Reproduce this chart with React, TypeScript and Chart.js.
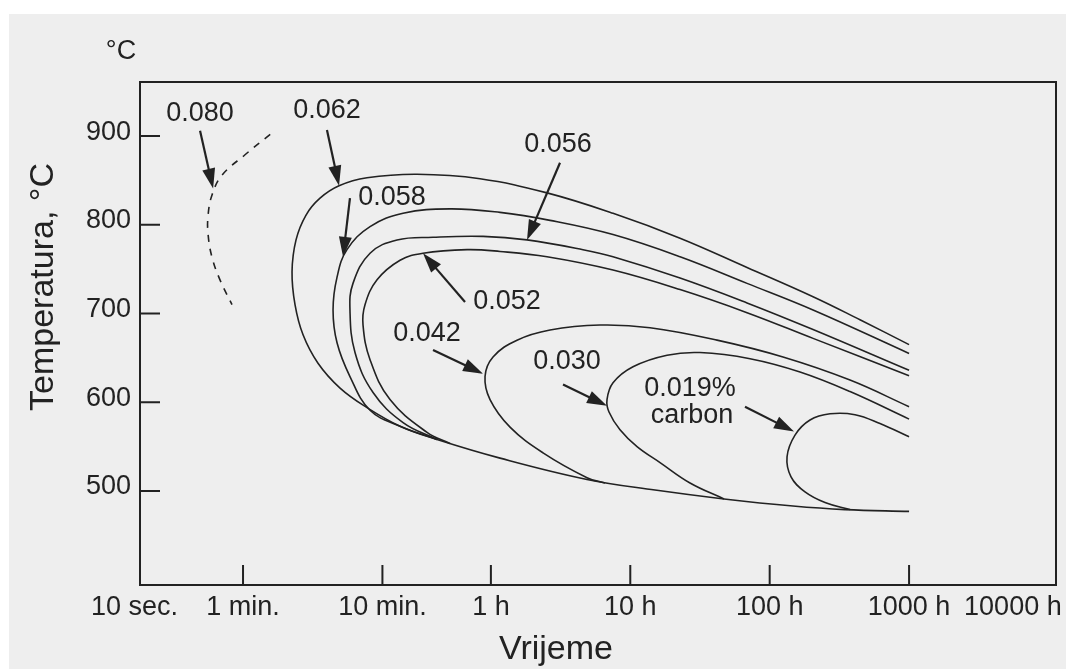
import React, { useEffect, useRef } from 'react';
import { Chart, registerables } from 'chart.js';

Chart.register(...registerables);

const FONT = "'Liberation Sans', Arial, Helvetica, sans-serif";
const INK = '#222222';

// x axis: time in seconds (log scale), y axis: temperature in °C
const xMin = 10.94;
const xMax = 40770000;
const yMin = 394;
const yMax = 961;

const xTickValues = [10, 60, 600, 3600, 36000, 360000, 3600000, 20000000];
const xTickLabels = ['10 sec.', '1 min.', '10 min.', '1 h', '10 h', '100 h', '1000 h', '10000 h'];
const xTickMarks = [60, 600, 3600, 36000, 360000, 3600000];
const yTickValues = [500, 600, 700, 800, 900];

// 0.080 % C (dashed)
const c080Time = [94, 62, 42.4, 36, 33.7, 33.7, 36, 41, 50];
const c080Temp = [902, 879, 856, 834, 811, 789, 763, 738, 710];

// 0.062 % C (includes common lower boundary)
const c062Time = [3600000, 1600000, 737000, 247600, 81900, 27070, 9100, 3008, 1063, 465, 293, 214, 169.9, 144, 134.8, 141.6, 161.7, 207, 298, 465, 803, 1479, 4186, 17615, 54160, 169300, 529000, 1250000, 3600000];
const c062Temp = [665, 693, 719, 752, 785, 813, 836, 852, 857, 853, 844, 830, 811, 783, 747, 710, 676, 644, 616, 594, 573, 558, 537, 513, 501, 491, 483, 479, 477];

// 0.058 % C
const c058Time = [3600000, 737000, 247600, 81900, 27070, 9561, 4186, 1833, 844, 489, 334, 283.5, 265.4, 283.5, 351, 489, 802.6, 1479];
const c058Temp = [655, 704, 734, 764, 789, 805, 814, 818, 813, 798, 772, 741, 704, 667, 629, 591, 573, 558];

// 0.056 % C
const c056Time = [3600000, 737000, 247600, 81900, 27070, 16490, 6539, 3162, 1384, 764, 489, 369, 351, 381.5, 514, 844, 1479];
const c056Temp = [636, 682, 712, 740, 764, 772, 783, 787, 786, 783, 768, 734, 704, 656, 611, 577, 558];

// 0.052 % C
const c052Time = [3600000, 737000, 247600, 81900, 27070, 9100, 4186, 2428, 1173, 803, 549, 450, 435.5, 489, 680, 1254, 1833];
const c052Temp = [630, 672, 701, 727, 749, 764, 770, 772, 768, 760, 738, 710, 687, 648, 603, 566, 553.5];

// 0.042 % C
const c042Time = [3600000, 1357000, 448600, 150850, 49890, 21840, 9561, 5542, 3729, 3268, 3549, 4938, 8518, 17615, 23710];
const c042Temp = [595, 625, 651, 670, 684, 687, 681.5, 670, 651, 629, 603, 572, 543, 515, 509];

// 0.030 % C
const c030Time = [3600000, 1357000, 594000, 260200, 113900, 66050, 37650, 27070, 24510, 25330, 30380, 40240, 58850, 96560, 169300];
const c030Temp = [581, 612, 634, 649, 656, 653, 640, 622, 603, 589, 569, 550, 532, 509, 491];

// 0.019 % C
const c019Time = [3600000, 2227000, 1474000, 975700, 700800, 547000, 479500, 512200, 645300, 898000, 1357000];
const c019Temp = [561, 576, 586, 587, 580, 563, 538.5, 516, 499, 487, 479];

// annotation labels (centre, in data units)
const labelText = ['0.080', '0.062', '0.058', '0.056', '0.052', '0.042', '0.030', '0.019%', 'carbon'];
const labelTime = [29.5, 240, 703, 10910, 4699, 1254, 12663, 96560, 99800];
const labelTemp = [926, 929, 831, 891, 714, 677, 645.5, 616, 585];

// arrows (tail -> tip, in data units)
const arrowFromTime = [29.5, 240, 351, 11277, 2348, 1384, 11852, 239500];
const arrowFromTemp = [906, 907, 830, 870, 713, 659, 620, 595];
const arrowToTime = [36.6, 293, 313, 6539, 1173, 3162, 24510, 538000];
const arrowToTemp = [841, 844, 764, 783, 768, 632, 596, 567];

function pts(t: number[], v: number[]) {
  return t.map((x, i) => ({ x, y: v[i] }));
}

function drawArrow(ctx: CanvasRenderingContext2D, x1: number, y1: number, x2: number, y2: number) {
  const ang = Math.atan2(y2 - y1, x2 - x1);
  const headLen = 20;
  const headW = 6.5;
  const bx = x2 - headLen * Math.cos(ang);
  const by = y2 - headLen * Math.sin(ang);
  ctx.beginPath();
  ctx.moveTo(x1, y1);
  ctx.lineTo(bx + 2 * Math.cos(ang), by + 2 * Math.sin(ang));
  ctx.lineWidth = 2.2;
  ctx.stroke();
  ctx.beginPath();
  ctx.moveTo(x2, y2);
  ctx.lineTo(bx + headW * Math.sin(ang), by - headW * Math.cos(ang));
  ctx.lineTo(bx - headW * Math.sin(ang), by + headW * Math.cos(ang));
  ctx.closePath();
  ctx.fill();
}

const decorPlugin = {
  id: 'decor',
  afterDatasetsDraw(chart: any) {
    const { ctx, chartArea: a, scales } = chart;
    const xs = scales.x;
    const ys = scales.y;
    ctx.save();
    ctx.strokeStyle = INK;
    ctx.fillStyle = INK;
    ctx.lineWidth = 2;
    ctx.strokeRect(a.left, a.top, a.right - a.left, a.bottom - a.top);
    ctx.beginPath();
    xTickMarks.forEach((v) => {
      const px = xs.getPixelForValue(v);
      ctx.moveTo(px, a.bottom);
      ctx.lineTo(px, a.bottom - 20);
    });
    yTickValues.forEach((v) => {
      const py = ys.getPixelForValue(v);
      ctx.moveTo(a.left, py);
      ctx.lineTo(a.left + 20, py);
    });
    ctx.stroke();

    arrowFromTime.forEach((t, i) => {
      drawArrow(
        ctx,
        xs.getPixelForValue(t),
        ys.getPixelForValue(arrowFromTemp[i]),
        xs.getPixelForValue(arrowToTime[i]),
        ys.getPixelForValue(arrowToTemp[i])
      );
    });

    ctx.font = `27px ${FONT}`;
    ctx.textAlign = 'center';
    ctx.textBaseline = 'middle';
    labelText.forEach((s, i) => {
      ctx.fillText(s, xs.getPixelForValue(labelTime[i]), ys.getPixelForValue(labelTemp[i]));
    });

    ctx.fillText('°C', a.left - 19, a.top - 30);

    ctx.font = `34px ${FONT}`;
    ctx.fillText('Vrijeme', a.left + 416, a.bottom + 65);
    ctx.save();
    ctx.translate(a.left - 96, a.top + 205);
    ctx.rotate(-Math.PI / 2);
    ctx.fillText('Temperatura, °C', 0, 0);
    ctx.restore();
    ctx.restore();
  },
};

export default function App() {
  const ref = useRef<HTMLCanvasElement>(null);
  useEffect(() => {
    const solid = (t: number[], v: number[]) => ({
      data: pts(t, v),
      borderColor: INK,
      borderWidth: 1.6,
      pointRadius: 0,
      tension: 0.4,
      fill: false,
    });
    const chart = new Chart(ref.current as HTMLCanvasElement, {
      type: 'line',
      data: {
        datasets: [
          { ...solid(c080Time, c080Temp), borderDash: [7, 7] },
          solid(c062Time, c062Temp),
          solid(c058Time, c058Temp),
          solid(c056Time, c056Temp),
          solid(c052Time, c052Temp),
          solid(c042Time, c042Temp),
          solid(c030Time, c030Temp),
          solid(c019Time, c019Temp),
        ] as any,
      },
      options: {
        animation: false,
        responsive: false,
        layout: { padding: { top: 68, right: 10, left: 0, bottom: 0 } },
        plugins: { legend: { display: false }, tooltip: { enabled: false } },
        elements: { line: { capBezierPoints: false } },
        scales: {
          x: {
            type: 'logarithmic',
            min: xMin,
            max: xMax,
            grid: { display: false, drawTicks: false },
            border: { display: false },
            afterBuildTicks: (s: any) => {
              s.ticks = xTickValues.map((v) => ({ value: v }));
            },
            afterFit: (s: any) => {
              s.height = 84;
              s.paddingLeft = 0;
              s.paddingRight = 0;
            },
            ticks: {
              autoSkip: false,
              maxRotation: 0,
              minRotation: 0,
              padding: 6,
              color: INK,
              font: { family: FONT, size: 27 },
              callback: (_v: any, i: number) => xTickLabels[i],
            },
          },
          y: {
            type: 'linear',
            min: yMin,
            max: yMax,
            grid: { display: false, drawTicks: false },
            border: { display: false },
            afterBuildTicks: (s: any) => {
              s.ticks = yTickValues.map((v) => ({ value: v }));
            },
            afterFit: (s: any) => {
              s.width = 131;
              s.paddingTop = 0;
              s.paddingBottom = 0;
            },
            ticks: {
              padding: 9,
              labelOffset: -4,
              color: INK,
              font: { family: FONT, size: 27 },
              callback: (v: any) => String(v),
            },
          },
        },
      } as any,
      plugins: [decorPlugin],
    });
    return () => chart.destroy();
  }, []);
  return (
    <div
      style={{
        position: 'absolute',
        left: 9,
        top: 14,
        width: 1057,
        height: 655,
        background: '#eeeeee',
      }}
    >
      <canvas ref={ref} width={1057} height={655} style={{ display: 'block', width: 1057, height: 655 }} />
    </div>
  );
}
